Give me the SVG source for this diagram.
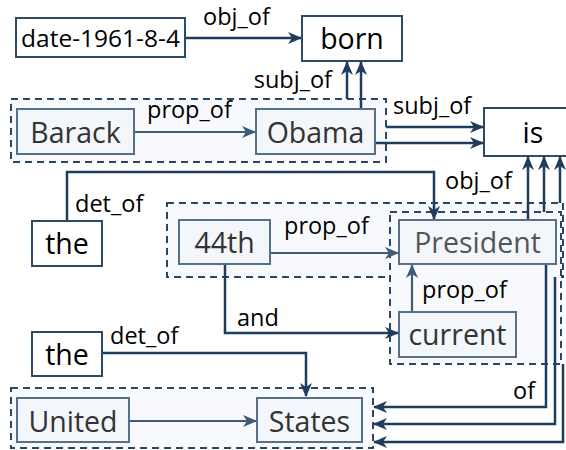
<svg xmlns="http://www.w3.org/2000/svg" width="566" height="450" viewBox="0 0 566 450">
<style>
.grp{fill:#f7f9fc;stroke:#2b4764;stroke-width:2;stroke-dasharray:7,5}
.n rect{fill:#ffffff;stroke:#2b4a68;stroke-width:2}
.n text{fill:#000;font-family:"Open Sans","Noto Sans",sans-serif;font-size:28.5px;text-anchor:middle}
.g rect{fill:#f3f6fa;stroke:#56708a;stroke-width:2}
.g text{fill:#333;font-family:"Open Sans","Noto Sans",sans-serif;font-size:28.5px;text-anchor:middle}
.c{fill:none;stroke:#1e3d5c;stroke-width:2.5}
.p{fill:none;stroke:#3e5b78;stroke-width:2.2}
.l{fill:#000;font-family:"Open Sans","Noto Sans",sans-serif;font-size:23.5px}
</style>
<defs>
<marker id="ah" markerUnits="userSpaceOnUse" markerWidth="14" markerHeight="12" refX="13" refY="6" orient="auto" viewBox="0 0 14 12">
<path d="M0,0 L14,6 L0,12 L4,6 z" fill="#1e3d5c"/>
</marker>
<marker id="ahp" markerUnits="userSpaceOnUse" markerWidth="14" markerHeight="12" refX="13" refY="6" orient="auto" viewBox="0 0 14 12">
<path d="M0,0 L14,6 L0,12 L4,6 z" fill="#3e5b78"/>
</marker>
</defs>
<rect width="566" height="450" fill="#fff"/>
<g id="groups">
<rect id="grp-barack-obama" class="grp" x="11" y="99" width="375" height="63"/>
<rect id="grp-44th-president" class="grp" x="167" y="203" width="396" height="74"/>
<rect id="grp-president-current" class="grp" x="390" y="212" width="171" height="152"/>
<rect id="grp-united-states" class="grp" x="11" y="388" width="362" height="60"/>
</g>
<g id="connectors">
<path class="c" d="M185,38 H301" marker-end="url(#ah)"/>
<path class="c" d="M347,99 V62" marker-end="url(#ah)"/>
<path class="c" d="M361,109 V62" marker-end="url(#ah)"/>
<path class="c" d="M386,127 H483" marker-end="url(#ah)"/>
<path class="c" d="M375,143 H483" marker-end="url(#ah)"/>
<path class="p" d="M134,132 H255" marker-end="url(#ahp)"/>
<path class="c" d="M67,221 V172 H434 V219" marker-end="url(#ah)"/>
<path class="c" d="M528,220 V157" marker-end="url(#ah)"/>
<path class="c" d="M544,212 V157" marker-end="url(#ah)"/>
<path class="c" d="M560,203 V157" marker-end="url(#ah)"/>
<path class="p" d="M270,253 H398" marker-end="url(#ahp)"/>
<path class="c" d="M225,264 V333 H398" marker-end="url(#ah)"/>
<path class="p" d="M412,312 V265" marker-end="url(#ahp)"/>
<path class="c" d="M102,353 H306 V396" marker-end="url(#ah)"/>
<path class="p" d="M129,421 H256" marker-end="url(#ahp)"/>
<path class="c" d="M546,264 V407 H374" marker-end="url(#ah)"/>
<path class="c" d="M555,277 V424 H374" marker-end="url(#ah)"/>
<path class="c" d="M563,364 V442 H374" marker-end="url(#ah)"/>
<text class="l" x="203" y="25">obj_of</text>
<text class="l" x="332" y="88" text-anchor="end">subj_of</text>
<text class="l" x="393" y="114">subj_of</text>
<text class="l" x="147" y="118">prop_of</text>
<text class="l" x="75" y="212">det_of</text>
<text class="l" x="445" y="189">obj_of</text>
<text class="l" x="284" y="234">prop_of</text>
<text class="l" x="237" y="326">and</text>
<text class="l" x="422" y="298">prop_of</text>
<text class="l" x="110" y="344">det_of</text>
<text class="l" x="513" y="399">of</text>
</g>
<g id="node-date" class="n"><rect x="16" y="18" width="169" height="39"/><text x="100.5" y="46.5" style="font-size:24.5px">date-1961-8-4</text></g>
<g id="node-born" class="n"><rect x="302" y="16" width="100" height="45"/><text x="352" y="48.5">born</text></g>
<g id="node-is" class="n"><rect x="484" y="108" width="100" height="48"/><text x="533" y="142.5">is</text></g>
<g id="node-barack" class="g"><rect x="17" y="109" width="117" height="45"/><text x="75.5" y="142.5">Barack</text></g>
<g id="node-obama" class="g"><rect x="256" y="109" width="119" height="45"/><text x="315.5" y="142.5">Obama</text></g>
<g id="node-the1" class="n"><rect x="32" y="221" width="70" height="45"/><text x="67" y="254">the</text></g>
<g id="node-44th" class="g"><rect x="179" y="220" width="91" height="44"/><text x="224.5" y="252.5">44th</text></g>
<g id="node-president" class="g"><rect x="399" y="220" width="157" height="44"/><text x="477.5" y="252.5" style="fill:#555">President</text></g>
<g id="node-current" class="g"><rect x="399" y="312" width="117" height="45"/><text x="457.5" y="345">current</text></g>
<g id="node-the2" class="n"><rect x="32" y="332" width="70" height="44"/><text x="67" y="364.5">the</text></g>
<g id="node-united" class="g"><rect x="17" y="398" width="112" height="44"/><text x="73" y="431.5">United</text></g>
<g id="node-states" class="g"><rect x="257" y="398" width="105" height="44"/><text x="309.5" y="431.5">States</text></g>
</svg>
